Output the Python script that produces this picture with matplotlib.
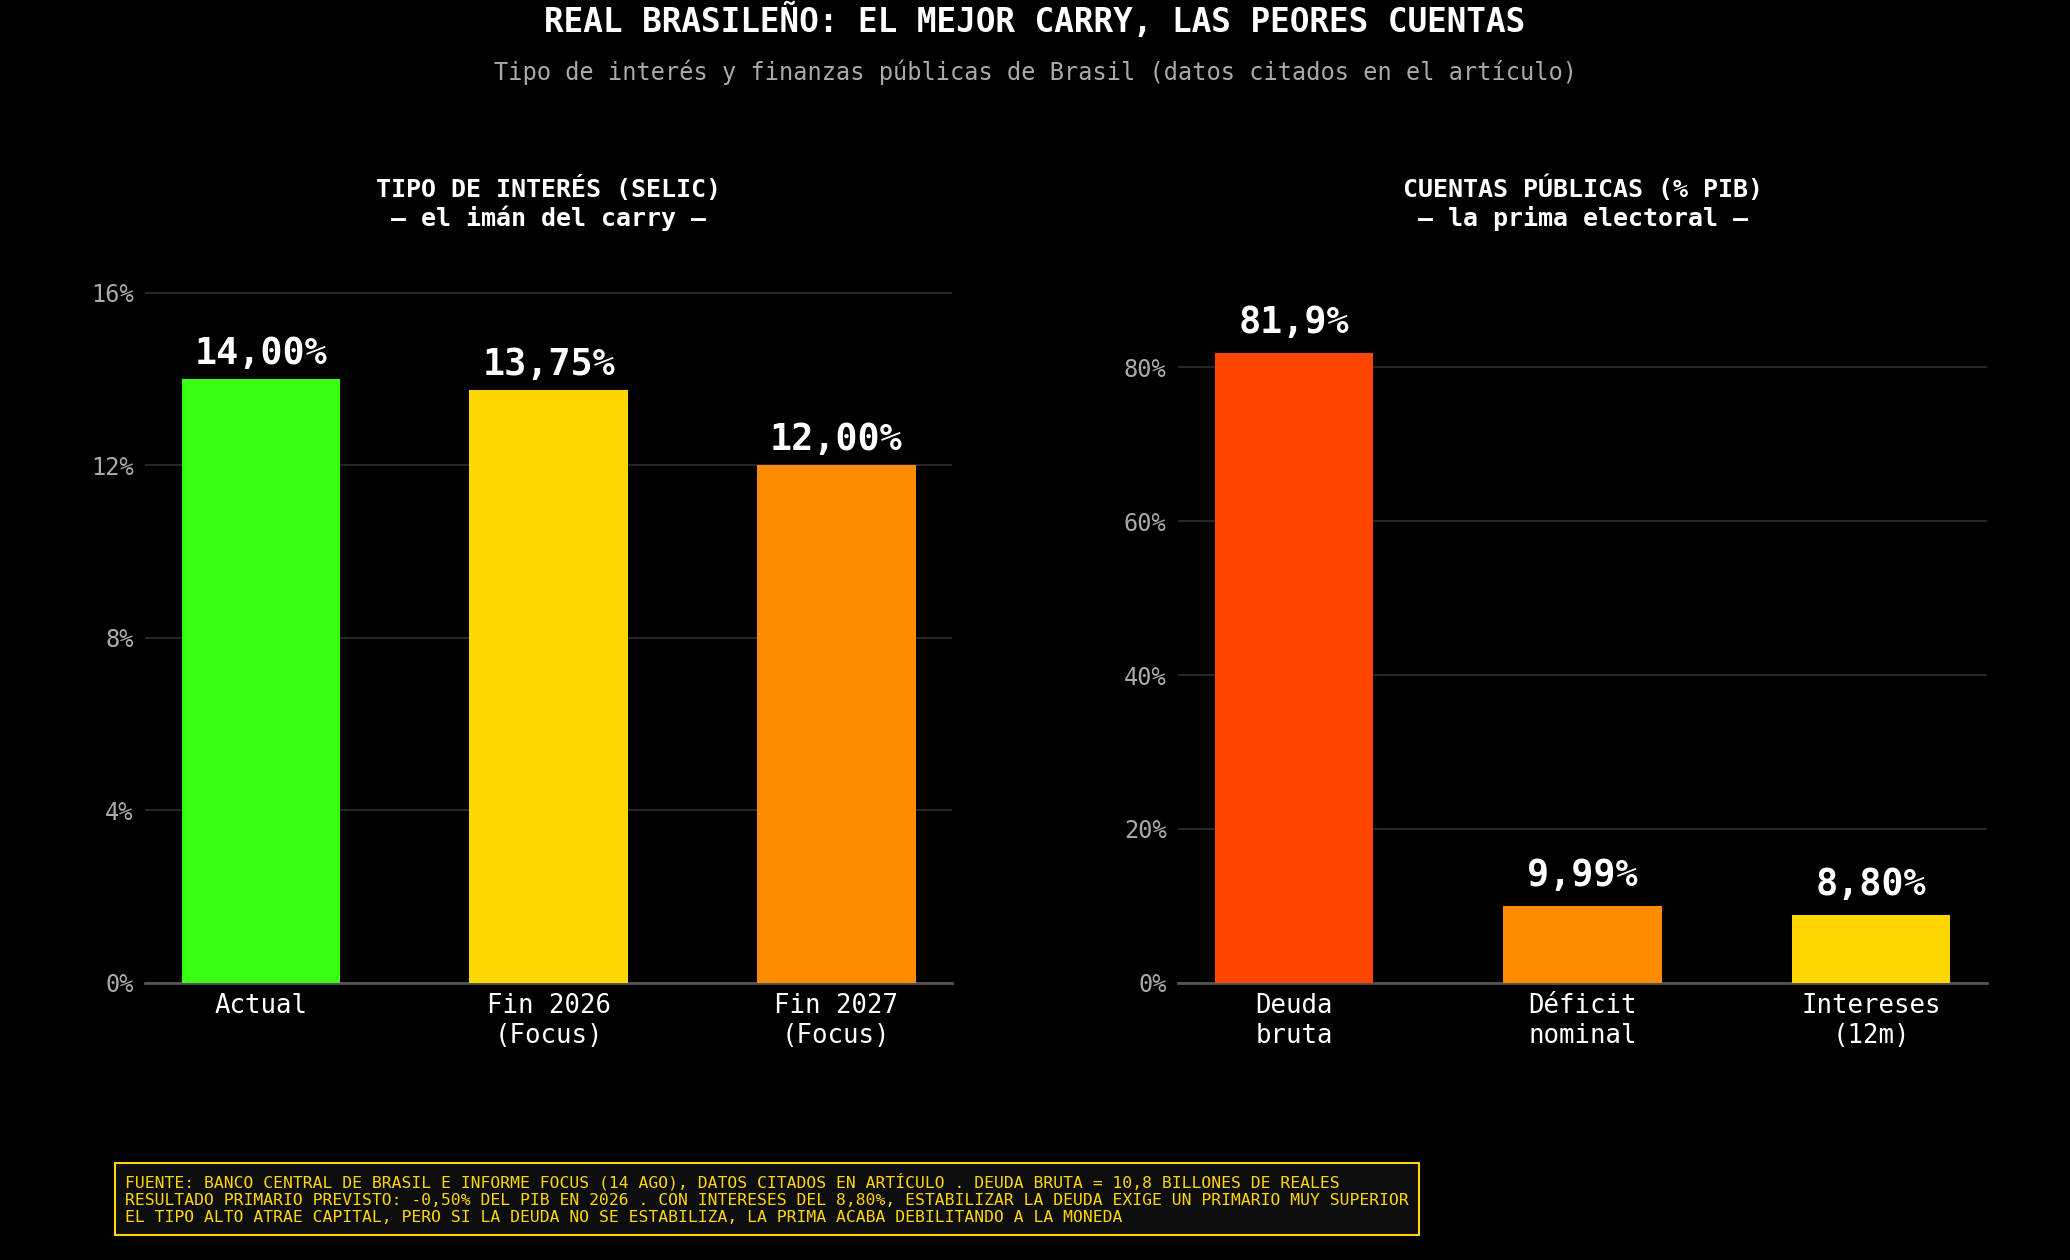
import matplotlib
matplotlib.use("Agg")
import matplotlib.pyplot as plt
from matplotlib.ticker import FuncFormatter

plt.rcParams['font.family'] = ['DejaVu Sans Mono', 'DejaVu Sans']

# datos
selic_labels = ["Actual", "Fin 2026\n(Focus)", "Fin 2027\n(Focus)"]
selic_values = [14.00, 13.75, 12.00]
selic_text = ["14,00%", "13,75%", "12,00%"]
selic_colors = ["#39FF14", "#FFD700", "#FF8C00"]

fiscal_labels = ["Deuda\nbruta", "Déficit\nnominal", "Intereses\n(12m)"]
fiscal_values = [81.9, 9.99, 8.80]
fiscal_text = ["81,9%", "9,99%", "8,80%"]
fiscal_colors = ["#FF4500", "#FF8C00", "#FFD700"]

selic_ticks = [0, 4, 8, 12, 16]
fiscal_ticks = [0, 20, 40, 60, 80]

footer = ("FUENTE: BANCO CENTRAL DE BRASIL E INFORME FOCUS (14 AGO), DATOS CITADOS EN ARTÍCULO . DEUDA BRUTA = 10,8 BILLONES DE REALES\n"
          "RESULTADO PRIMARIO PREVISTO: -0,50% DEL PIB EN 2026 . CON INTERESES DEL 8,80%, ESTABILIZAR LA DEUDA EXIGE UN PRIMARIO MUY SUPERIOR\n"
          "EL TIPO ALTO ATRAE CAPITAL, PERO SI LA DEUDA NO SE ESTABILIZA, LA PRIMA ACABA DEBILITANDO A LA MONEDA")

fig = plt.figure(figsize=(20.7, 12.6), dpi=100, facecolor="black")
ax1 = fig.add_axes([0.070, 0.2201, 0.390, 0.5749])
ax2 = fig.add_axes([0.569, 0.2201, 0.391, 0.5749])


def draw_panel(ax, labels, values, texts, colors, ticks, ymax, title, off):
    ax.set_facecolor("black")
    x = range(len(values))
    bars = ax.bar(x, values, width=0.55, color=colors, zorder=3)
    for b, t in zip(bars, texts):
        ax.annotate(t, (b.get_x() + b.get_width() / 2, b.get_height()),
                    xytext=(0, off), textcoords="offset points",
                    ha="center", va="bottom", color="white",
                    fontsize=26.5, fontweight="bold")
    ax.set_xticks(list(x))
    ax.set_xticklabels(labels, color="white", fontsize=18.5)
    ax.set_yticks(ticks)
    ax.yaxis.set_major_formatter(FuncFormatter(lambda v, p: f"{v:.0f}%"))
    ax.set_ylim(0, ymax)
    ax.tick_params(axis="y", colors="#aaaaaa", labelsize=17, length=0, pad=8)
    ax.tick_params(axis="x", length=0, pad=7.5)
    ax.grid(axis="y", color="#262626", linewidth=1.5, zorder=0)
    for s in ["top", "right", "left"]:
        ax.spines[s].set_visible(False)
    ax.spines["bottom"].set_color("#555555")
    ax.spines["bottom"].set_linewidth(2)
    ax.set_title(title, color="white", fontsize=18, fontweight="bold", pad=23)


draw_panel(ax1, selic_labels, selic_values, selic_text, selic_colors,
           selic_ticks, max(selic_values) * 1.2,
           "TIPO DE INTERÉS (SELIC)\n— el imán del carry —", 5)
draw_panel(ax2, fiscal_labels, fiscal_values, fiscal_text, fiscal_colors,
           fiscal_ticks, max(fiscal_values) * 1.15,
           "CUENTAS PÚBLICAS (% PIB)\n— la prima electoral —", 8.8)

fig.text(0.5, 0.983, "REAL BRASILEÑO: EL MEJOR CARRY, LAS PEORES CUENTAS",
         ha="center", va="center", color="white", fontsize=23.5, fontweight="bold")
fig.text(0.5, 0.943, "Tipo de interés y finanzas públicas de Brasil (datos citados en el artículo)",
         ha="center", va="center", color="#aaaaaa", fontsize=17)

fig.text(0.0605, 0.0485, footer, ha="left", va="center", color="#FFD700", fontsize=11.8,
         bbox=dict(boxstyle="square,pad=0.6", facecolor="#0d0d0d",
                   edgecolor="#FFD700", linewidth=1.5))

fig.savefig("out.png", dpi=100, facecolor="black")
